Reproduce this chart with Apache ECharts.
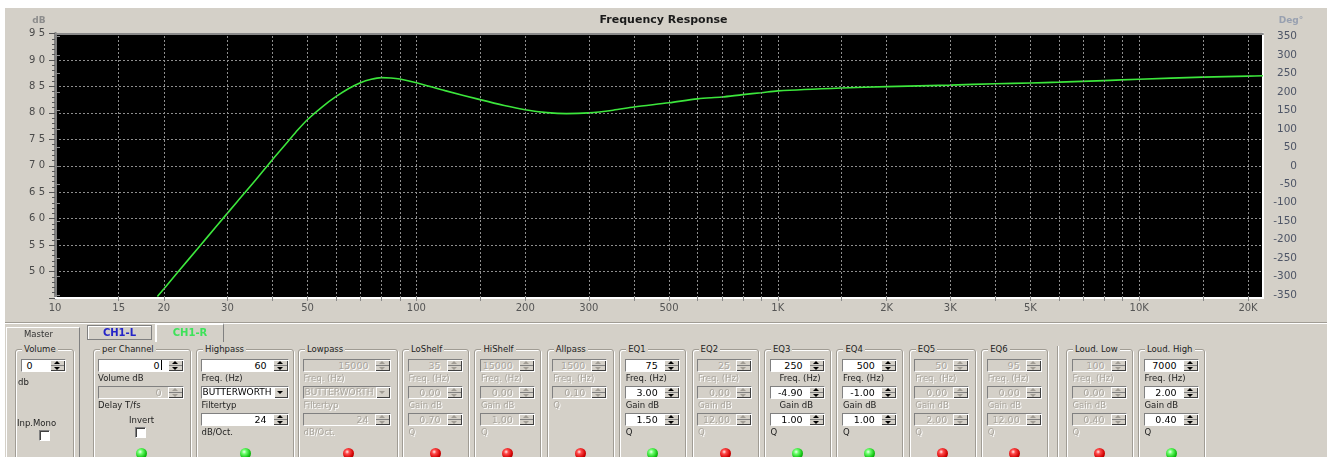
<!DOCTYPE html>
<html>
<head>
<meta charset="utf-8">
<script src="https://cdn.jsdelivr.net/npm/echarts@6/dist/echarts.min.js"></script>
<style>
html,body{margin:0;padding:0;background:#fff;overflow:hidden;}
body{width:1327px;height:457px;position:relative;font-family:"DejaVu Sans",sans-serif;}
#win{position:absolute;left:5px;top:8px;right:0;bottom:0;background:#d4d0c8;}
#chart{position:absolute;left:0;top:0;width:1327px;height:318px;}
#panel{position:absolute;left:0;top:0;width:1327px;height:457px;pointer-events:none;}
.abs{position:absolute;}
.groove-h{position:absolute;height:1px;background:#a09c94;border-bottom:1px solid #fff;}
.groove-v{position:absolute;width:1px;background:#a09c94;border-right:1px solid #fff;}
.raised{position:absolute;border:1px solid;border-color:#fff #808080 #808080 #fff;}
.gbox{position:absolute;border:1px solid #a09c94;box-shadow:inset 1px 1px 0 #fff,1px 1px 0 #fff;border-radius:3px;}
.gtitle{position:absolute;top:-6px;left:6px;padding:0 2px;background:#d4d0c8;font-size:8.5px;line-height:11px;color:#1e1e1e;white-space:nowrap;}
.lb{position:absolute;font-size:8.5px;line-height:11px;white-space:nowrap;color:#1e1e1e;}
.lb.off{color:#aaa69e;text-shadow:1px 1px 0 #fff;}
.in{position:absolute;height:11px;border:1px solid;border-color:#808080 #fff #fff #808080;background:#fff;font-size:9.5px;line-height:11px;overflow:hidden;white-space:nowrap;color:#000;}
.in.off{background:#d4d0c8;color:#aaa69e;text-shadow:1px 1px 0 #fff;}
.in .v{position:absolute;top:0;}
.sp{position:absolute;top:0;right:0;bottom:0;width:15px;background:#d4d0c8;box-shadow:inset 1px 1px 0 #fff,inset -1px -1px 0 #404040;}
.sp .mid{position:absolute;left:1px;right:1px;top:5px;height:1px;background:#808080;}
.sp .up{position:absolute;left:4px;top:1px;width:0;height:0;border-left:3.5px solid transparent;border-right:3.5px solid transparent;border-bottom:3.5px solid #000;}
.sp .dn{position:absolute;left:4px;top:6.5px;width:0;height:0;border-left:3.5px solid transparent;border-right:3.5px solid transparent;border-top:3.5px solid #000;}
.in.off .sp .up{border-bottom-color:#a09c94;}
.in.off .sp .dn{border-top-color:#a09c94;}
.dd{position:absolute;top:0;right:0;bottom:0;width:14px;background:#d4d0c8;box-shadow:inset 1px 1px 0 #fff,inset -1px -1px 0 #404040;}
.dd .dn{position:absolute;left:3.5px;top:4px;width:0;height:0;border-left:3.5px solid transparent;border-right:3.5px solid transparent;border-top:3.5px solid #000;}
.in.off .dd .dn{border-top-color:#a09c94;}
.cb{position:absolute;width:9px;height:9px;background:#fff;border:1px solid;border-color:#808080 #fff #fff #808080;box-shadow:inset 1px 1px 0 #404040;}
.led{position:absolute;width:11px;height:11px;border-radius:50%;}
.led.on{background:radial-gradient(circle at 38% 35%,#f0fff0 0,#6dff6d 22%,#10c010 62%,#057005 100%);}
.led.red{background:radial-gradient(circle at 38% 35%,#fff0f0 0,#ff4a4a 22%,#d00000 62%,#6a0000 100%);}
.tab{position:absolute;font-size:10px;font-weight:bold;text-align:center;}
.caret{display:inline-block;width:1px;height:10px;background:#000;vertical-align:-1px;margin-left:1px;}
</style>
</head>
<body>
<div id="win"></div>
<div id="chart"></div>
<div id="panel"></div>
<script>
// ---- frequency response curve (Hz, dB) ----
const freqHz = [19.2, 20, 22, 25, 28, 32, 36, 40, 44, 47, 50, 55, 60, 65, 70, 75, 80, 85, 90, 100, 120, 150, 175, 200, 230, 260, 300, 350, 400, 500, 600, 700, 800, 900, 1000, 1500, 2000, 3000, 4000, 5000, 6000, 8000, 10000, 15000, 20000, 22000];
const levelDb = [45.3, 46.7, 50.1, 54.6, 58.6, 63.3, 67.4, 71.2, 74.5, 76.8, 78.75, 81.2, 83.1, 84.6, 85.7, 86.35, 86.65, 86.6, 86.4, 85.7, 84.2, 82.5, 81.4, 80.6, 80.05, 79.85, 80.0, 80.5, 81.1, 81.9, 82.65, 83.0, 83.45, 83.8, 84.15, 84.7, 84.95, 85.25, 85.5, 85.65, 85.8, 86.1, 86.35, 86.75, 86.95, 87.0];

// ---- axis ticks ----
const xLabelValues = [10, 15, 20, 30, 50, 100, 200, 300, 500, 1000, 2000, 3000, 5000, 10000, 20000];
const xGridValues = [15, 20, 30, 40, 50, 60, 70, 80, 90, 100, 150, 200, 300, 400, 500, 600, 700, 800, 900, 1000, 1500, 2000, 3000, 4000, 5000, 6000, 7000, 8000, 9000, 10000, 15000, 20000];

// ---- control panel values ----
const passTitles = ['Highpass', 'Lowpass'];
const passEnabled = [true, false];
const passFreq = ['60', '15000'];
const passType = ['BUTTERWORTH', 'BUTTERWORTH'];
const passSlope = ['24', '24'];

const filterTitles = ['LoShelf', 'HiShelf', 'Allpass', 'EQ1', 'EQ2', 'EQ3', 'EQ4', 'EQ5', 'EQ6', 'Loud. Low', 'Loud. High'];
const filterEnabled = [false, false, false, true, false, true, true, false, false, false, true];
const filterFreq = ['35', '15000', '1500', '75', '25', '250', '500', '50', '95', '100', '7000'];
const filterGain = ['0.00', '0.00', null, '3.00', '0.00', '-4.90', '-1.00', '0.00', '0.00', '0.00', '2.00'];
const filterQ = ['0.70', '1.00', '0.10', '1.50', '12.00', '1.00', '1.00', '2.00', '12.00', '0.40', '0.40'];

const channelTabs = ['CH1-L', 'CH1-R'];

// ---------------- chart ----------------
const chart = echarts.init(document.getElementById('chart'), null, {renderer: 'canvas'});
const kFmt = v => v >= 1000 ? (v / 1000) + 'K' : String(v);
const gridLine = {color: '#8e8e8e', type: [2, 2], width: 1};

chart.setOption({
  animation: false,
  textStyle: {fontFamily: 'DejaVu Sans'},
  title: {
    text: 'Frequency Response', left: 'center', top: 15, padding: 0,
    textStyle: {fontSize: 11, fontWeight: 'bold', color: '#1a1a1a', fontFamily: 'DejaVu Sans'}
  },
  grid: [
    {left: 55, top: 33.5, width: 1208, height: 264.5, show: true, backgroundColor: '#000', borderWidth: 0},
    {left: 55, top: 36.7, width: 1208, height: 258.3, show: false}
  ],
  xAxis: [
    {
      type: 'log', logBase: 10, gridIndex: 0, min: 10, max: 22000,
      axisLine: {show: true, onZero: false, lineStyle: {color: '#ffffff', width: 2}},
      axisTick: {show: true, customValues: xGridValues, length: 3, lineStyle: {color: '#8a8a8a'}},
      axisLabel: {customValues: xLabelValues, formatter: kFmt, margin: 5, fontSize: 10, color: '#555'},
      splitLine: {show: false}, minorTick: {show: false}, minorSplitLine: {show: false}
    },
    {
      type: 'log', logBase: 10, gridIndex: 0, position: 'top', min: 10, max: 22000,
      axisLine: {show: true, onZero: false, lineStyle: {color: '#8a8a8a', width: 2}},
      axisTick: {show: false}, axisLabel: {show: false}, splitLine: {show: false}
    },
    {type: 'value', gridIndex: 1, show: false}
  ],
  yAxis: [
    {
      type: 'value', gridIndex: 0, position: 'left', min: 45, max: 95, interval: 5,
      axisLine: {show: true, lineStyle: {color: '#808080', width: 3}},
      axisTick: {show: true, length: 6, lineStyle: {color: '#555'}},
      minorTick: {show: true, splitNumber: 5, length: 3, lineStyle: {color: '#555'}},
      axisLabel: {showMinLabel: false, formatter: v => String(v).split('').join(' '), margin: 10, fontSize: 10, color: '#4a4a4a'},
      splitLine: {show: true, lineStyle: gridLine}
    },
    {
      type: 'value', gridIndex: 0, position: 'right', min: 45, max: 95,
      axisLine: {show: true, lineStyle: {color: '#ffffff', width: 2}},
      axisTick: {show: false}, axisLabel: {show: false}, splitLine: {show: false}
    },
    {
      type: 'value', gridIndex: 1, position: 'right', min: -350, max: 350, interval: 50,
      axisLine: {show: false},
      axisTick: {show: true, length: 5, lineStyle: {color: '#8a8a8a'}},
      axisLabel: {margin: 34, align: 'right', fontSize: 10.5, color: '#4e5566'},
      splitLine: {show: false}
    }
  ],
  series: [
    {
      name: 'grid', type: 'line', xAxisIndex: 0, yAxisIndex: 0, z: 1, silent: true,
      data: [[10, 45]], showSymbol: false, lineStyle: {opacity: 0},
      markLine: {
        silent: true, symbol: 'none', animation: false, label: {show: false},
        lineStyle: gridLine, emphasis: {disabled: true},
        data: xGridValues.map(v => ({xAxis: v}))
      }
    },
    {
      name: 'Level', type: 'line', xAxisIndex: 0, yAxisIndex: 0, z: 3,
      data: freqHz.map((f, i) => [f, levelDb[i]]),
      smooth: 0.3, showSymbol: false, clip: true,
      lineStyle: {color: '#3ce63c', width: 1.6}
    }
  ],
  graphic: [
    {type: 'text', style: {x: 39, y: 21, text: 'dB', align: 'center', verticalAlign: 'middle', fill: '#8c8c8c', font: 'bold 9px "DejaVu Sans"'}},
    {type: 'text', style: {x: 1291, y: 21, text: 'Deg°', align: 'center', verticalAlign: 'middle', fill: '#98a0b0', font: 'bold 9px "DejaVu Sans"'}}
  ]
});

// ---------------- control panel ----------------
const panel = document.getElementById('panel');
function add(cls, x, y, w, h, html) {
  const d = document.createElement('div');
  d.className = cls;
  d.style.left = x + 'px';
  d.style.top = y + 'px';
  if (w != null) d.style.width = w + 'px';
  if (h != null) d.style.height = h + 'px';
  if (html != null) d.innerHTML = html;
  panel.appendChild(d);
  return d;
}
function label(x, yc, text, on) {
  return add('lb' + (on ? '' : ' off'), x, yc - 5.5, null, null, text);
}
function spin(x, y, w, value, on, padRight) {
  const d = add('in' + (on ? '' : ' off'), x, y, w - 2, null, '');
  d.innerHTML = '<span class="v" style="right:' + (padRight == null ? 21 : padRight) + 'px">' + value + '</span>' +
    '<div class="sp"><div class="up"></div><div class="mid"></div><div class="dn"></div></div>';
  return d;
}
function dropdown(x, y, w, value, on) {
  const d = add('in' + (on ? '' : ' off'), x, y, w - 2, null, '');
  d.innerHTML = '<span class="v" style="left:1px;right:15px;overflow:hidden;font-size:9px">' + value + '</span>' +
    '<div class="dd"><div class="dn"></div></div>';
  return d;
}
function group(x, w, title) {
  const b = add('gbox', x, 349, w - 2, 130, '');
  b.innerHTML = '<span class="gtitle">' + title + '</span>';
  return b;
}
function led(cx, on) { add('led ' + (on ? 'on' : 'red'), cx - 5.5, 447.5); }

const ROW = [359, 386, 413];          // input tops
const LROW = [378.3, 405.7, 432.3];   // caption centres

// separators and tabs
add('groove-h', 5, 322, 1322, null);
add('groove-v', 1057, 346, null, 120);
const tab0 = add('raised tab', 87, 325, 63, 13, channelTabs[0]);
tab0.style.color = '#2424c8'; tab0.style.borderColor = '#808080'; tab0.style.boxShadow = 'inset 1px 1px 0 #fff'; tab0.style.lineHeight = '13px';
const tab1 = add('tab', 155, 323, 66, 17, channelTabs[1]);
tab1.style.color = '#3ee25a'; tab1.style.borderLeft = '2px solid #fff'; tab1.style.borderTop = '2px solid #fff';
tab1.style.borderRight = '1px solid #808080'; tab1.style.lineHeight = '16px';

// Master
add('raised', 6, 327, 72, 140);
add('lb', 24, 328.5, null, null, 'Master').style.color = '#333';
group(15, 59, 'Volume');
spin(20.5, ROW[0], 45, '0', true, 32);
label(18, 382, 'db', true);
label(17, 423, 'Inp.Mono', true);
add('cb', 38.5, 429.5);

// per Channel
group(93, 98, 'per Channel');
spin(97.5, ROW[0], 86, '0<span class="caret"></span>', true, 21);
label(98, LROW[0], 'Volume dB', true);
spin(97.5, ROW[1], 86, '0', false, 21);
label(98, LROW[1], 'Delay T/fs', true);
label(129, 420.3, 'Invert', true);
add('cb', 135, 427);
led(141.5, true);

// Highpass / Lowpass
const passLeft = [196, 298];
passTitles.forEach((t, i) => {
  const x = passLeft[i], w = i === 0 ? 98 : 100, on = passEnabled[i];
  group(x, w, t);
  spin(x + 4.5, ROW[0], 88, passFreq[i], on);
  label(x + 5.5, LROW[0], 'Freq. (Hz)', on);
  dropdown(x + 4.5, ROW[1], 88, passType[i], on);
  label(x + 5.5, LROW[1], 'Filtertyp', on);
  spin(x + 4.5, ROW[2], 88, passSlope[i], on);
  label(x + 5.5, LROW[2], 'dB/Oct.', on);
  led(x + w / 2, on);
});

// parametric sections
filterTitles.forEach((t, i) => {
  const x = i < 9 ? 402 + i * 72.4 : (i === 9 ? 1066 : 1138);
  const w = 67, on = filterEnabled[i];
  const shift = t === 'EQ3' ? 10 : 1;
  group(x, w, t);
  spin(x + 5.5, ROW[0], 55, filterFreq[i], on);
  label(x + 5.5 + shift, LROW[0], 'Freq. (Hz)', on);
  if (filterGain[i] !== null) {
    spin(x + 5.5, ROW[1], 55, filterGain[i], on);
    label(x + 5.5 + shift, LROW[1], 'Gain dB', on);
    spin(x + 5.5, ROW[2], 55, filterQ[i], on);
    label(x + 6.5, LROW[2], 'Q', on);
  } else {
    spin(x + 5.5, ROW[1], 55, filterQ[i], on);
    label(x + 6.5, LROW[1], 'Q', on);
  }
  led(x + w / 2, on);
});
</script>
</body>
</html>
